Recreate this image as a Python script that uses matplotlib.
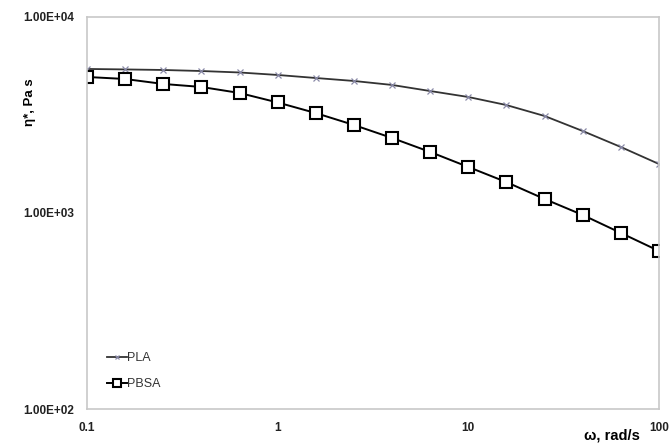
import numpy as np
import matplotlib
matplotlib.use("Agg")
import matplotlib.pyplot as plt

# frequency, rad/s
omega = [0.1, 0.158, 0.251, 0.398, 0.631, 1.0, 1.58, 2.51, 3.98, 6.31,
         10.0, 15.8, 25.1, 39.8, 63.1, 100.0]
# complex viscosity, Pa s
pla = [5430, 5400, 5365, 5300, 5210, 5060, 4884, 4716, 4500, 4190,
       3906, 3556, 3126, 2620, 2171, 1778]
pbsa = [4942, 4827, 4553, 4395, 4095, 3663, 3237, 2812, 2414, 2048,
        1717, 1439, 1179, 977, 791, 640]

xticks = [0.1, 1, 10, 100]
xtick_labels = ["0.1", "1", "10", "100"]
yticks = [100, 1000, 10000]
ytick_labels = ["1.00E+02", "1.00E+03", "1.00E+04"]

plt.rcParams['font.family'] = ['Liberation Sans', 'DejaVu Sans']

fig = plt.figure(figsize=(6.69, 4.43), dpi=100)
ax = fig.add_axes([0.130, 0.0767, 0.855, 0.885])

ax.plot(omega, pla, color="#333333", lw=1.3, marker="x", ms=4,
        mec="#8a8aa8", mew=0.9, label="PLA")
ax.plot(omega, pbsa, color="black", lw=1.4, marker="s", ms=8.5,
        mfc="white", mec="black", mew=1.5, label="PBSA")

ax.set_xscale("log")
ax.set_yscale("log")
ax.set_xlim(0.1, 100)
ax.set_ylim(100, 10000)
ax.set_xticks(xticks)
ax.set_xticklabels(xtick_labels, fontweight="bold", fontsize=8.5)
ax.set_yticks(yticks)
ax.set_yticklabels(ytick_labels, fontweight="bold", fontsize=8.5)
ax.minorticks_off()
ax.tick_params(axis="y", length=0, pad=9, colors="#222222")
ax.tick_params(axis="x", length=0, pad=9, colors="#222222")

for s in ax.spines.values():
    s.set_color("#c8c8c8")
    s.set_linewidth(1.2)

fig.text(0.045, 0.77, "η*, Pa s", rotation=90, fontweight="bold",
         fontsize=9.5, ha="center", va="center")
fig.text(0.915, 0.016, "ω, rad/s", fontweight="bold", fontsize=10.5,
         ha="center", va="center")

ax.legend(loc="lower left", bbox_to_anchor=(0.015, 0.02), frameon=False,
          handlelength=1.6, handletextpad=0.05, labelspacing=1.1,
          fontsize=9, labelcolor="#333333", markerscale=0.6)

fig.savefig("out.png", dpi=100)
